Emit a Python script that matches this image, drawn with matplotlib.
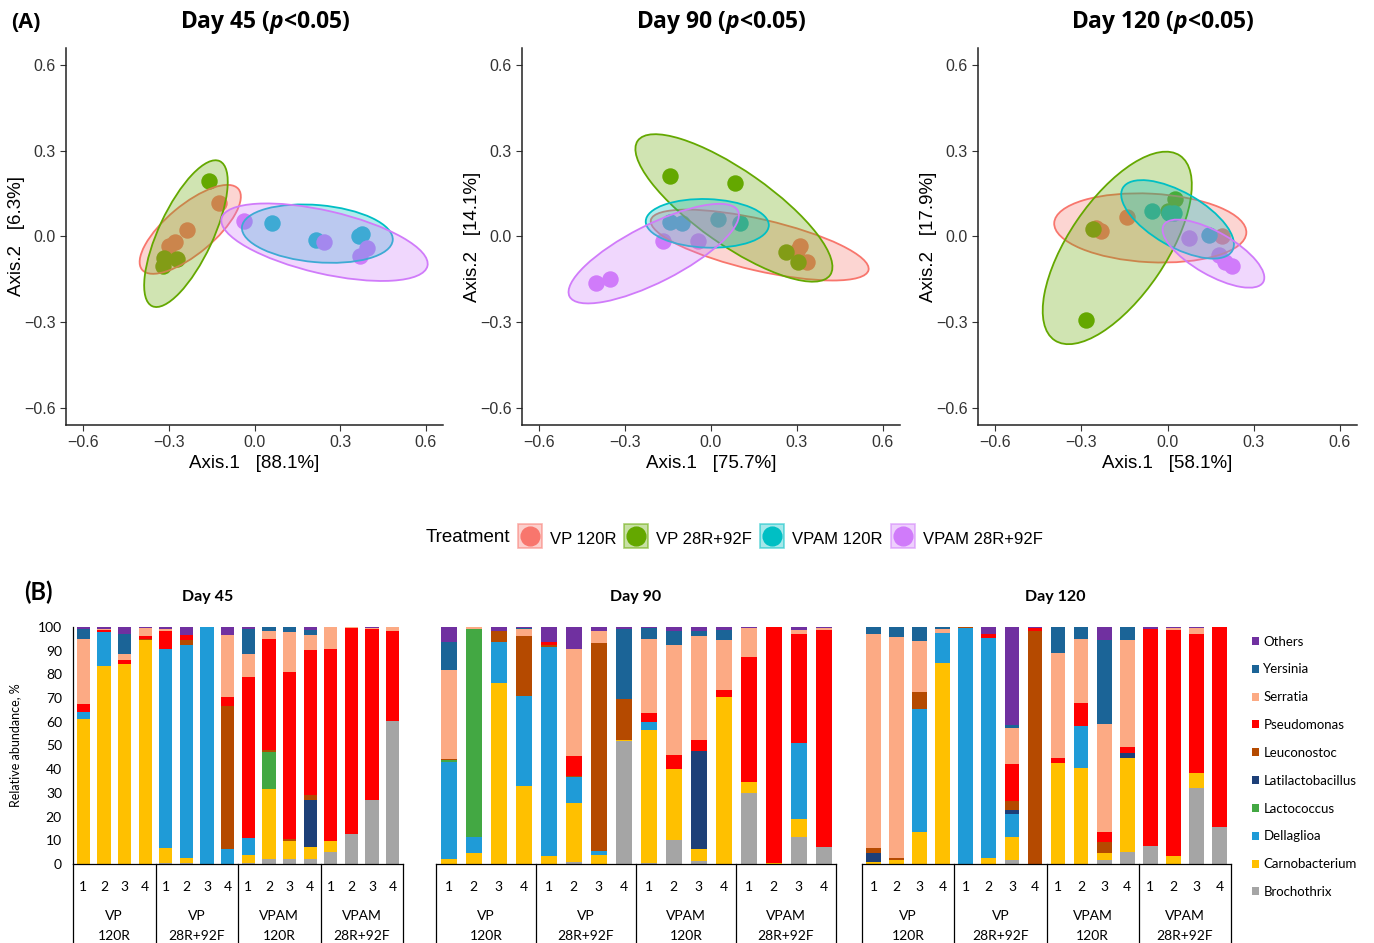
import matplotlib.pyplot as plt
from matplotlib.patches import Ellipse, Patch
from matplotlib.lines import Line2D
from matplotlib.legend_handler import HandlerTuple
from matplotlib.colors import to_rgba
from matplotlib import transforms

plt.rcParams['font.family'] = ['Liberation Sans', 'DejaVu Sans']
plt.rcParams['mathtext.fontset'] = 'custom'
plt.rcParams['mathtext.it'] = 'Open Sans:italic:bold'

# ---------------- (A) PCoA ----------------
treatments = ["VP 120R", "VP 28R+92F", "VPAM 120R", "VPAM 28R+92F"]
treat_colors = ["#F8766D", "#64A800", "#00BFC4", "#D07BFA"]

days = ["Day 45", "Day 90", "Day 120"]
axis1_pct = ["88.1%", "75.7%", "58.1%"]
axis2_pct = ["6.3%", "14.1%", "17.9%"]

# scores per day -> per treatment
d45_x = [[-0.125, -0.236, -0.28, -0.30], [-0.158, -0.317, -0.271, -0.321],
         [0.062, 0.214, 0.377, 0.365], [-0.037, 0.245, 0.394, 0.371]]
d45_y = [[0.117, 0.022, -0.019, -0.033], [0.193, -0.074, -0.079, -0.103],
         [0.047, -0.012, 0.008, 0.003], [0.055, -0.021, -0.039, -0.068]]
d90_x = [[0.31, 0.335, 0.30], [-0.144, 0.084, 0.261, 0.305],
         [-0.144, -0.103, 0.023, 0.103], [-0.402, -0.354, -0.167, -0.046]]
d90_y = [[-0.035, -0.09, -0.05], [0.212, 0.187, -0.053, -0.091],
         [0.051, 0.047, 0.063, 0.047], [-0.163, -0.149, -0.015, -0.015]]
d120_x = [[-0.23, -0.142, 0.19, -0.25], [-0.285, -0.261, 0.025, 0.0],
          [-0.055, 0.004, 0.144, 0.021], [0.074, 0.179, 0.225, 0.2]]
d120_y = [[0.02, 0.07, 0.002, 0.03], [-0.292, 0.028, 0.133, 0.09],
          [0.088, 0.084, 0.005, 0.084], [-0.006, -0.065, -0.103, -0.09]]

# 95% ellipses: centre x, centre y, major, minor, angle
d45_ell = [[-0.225, 0.025, 0.44, 0.17, 40], [-0.24, 0.01, 0.56, 0.19, 65],
           [0.22, 0.01, 0.53, 0.2, -5], [0.245, -0.02, 0.74, 0.22, -13]]
d90_ell = [[0.17, -0.03, 0.78, 0.18, -13], [0.08, 0.1, 0.82, 0.26, -35],
           [-0.013, 0.046, 0.43, 0.17, -2], [-0.2, -0.06, 0.66, 0.2, 27]]
d120_ell = [[-0.06, 0.03, 0.67, 0.24, -3], [-0.175, -0.04, 0.78, 0.34, 56],
            [0.035, 0.06, 0.44, 0.19, -30], [0.16, -0.06, 0.4, 0.15, -30]]

# ---------------- (B) relative abundance ----------------
genera = ["Brochothrix", "Carnobacterium", "Dellaglioa", "Lactococcus", "Latilactobacillus",
          "Leuconostoc", "Pseudomonas", "Serratia", "Yersinia", "Others"]
genus_colors = ["#A5A5A5", "#FFC000", "#1F9BD7", "#43A843", "#1D3F78",
                "#B54A00", "#FF0000", "#FCAA84", "#1B6497", "#7030A0"]
groups = [["VP", "120R"], ["VP", "28R+92F"], ["VPAM", "120R"], ["VPAM", "28R+92F"]]

# one row per bar: B, C, D, La, Lt, Le, P, S, Y, O
ab45 = [[0, 61, 3, 0, 0, 0, 3.5, 27.5, 4, 1],
        [0, 83.5, 14.5, 0, 0, 0, 0.7, 0.5, 0, 0.8],
        [0, 84.3, 0, 0, 0, 0, 1.7, 2.5, 8.7, 2.8],
        [0, 94.4, 0, 0, 0, 0.6, 1.2, 3.3, 0, 0.5],
        [0.5, 6.4, 84, 0, 0, 0, 7.4, 0.7, 0, 1],
        [0.3, 2.1, 89.9, 0, 0, 2.1, 2.2, 0, 0, 3.4],
        [0, 0, 100, 0, 0, 0, 0, 0, 0, 0],
        [0, 0, 6.5, 0, 0, 60, 4, 26, 0, 3.5],
        [0.5, 3.3, 7, 0, 0, 0, 68.2, 9.5, 10.8, 0.7],
        [2, 29.5, 0, 15.8, 0, 0.7, 47, 3.3, 1.7, 0],
        [2, 7.7, 0, 0, 0, 0.8, 70.5, 16.9, 2.1, 0],
        [2, 5.3, 0, 0, 19.9, 1.8, 61.4, 6.4, 1.8, 1.4],
        [4.9, 4.8, 0, 0, 0, 0, 80.9, 9.4, 0, 0],
        [12.6, 0, 0, 0, 0, 0, 87.1, 0.3, 0, 0],
        [27.2, 0, 0, 0, 0, 0, 71.8, 0.5, 0, 0.5],
        [60.3, 0, 0, 0, 0, 0, 37.9, 1.8, 0, 0]]
ab90 = [[0, 2, 41.1, 0.7, 0, 0.7, 0, 37.5, 11.7, 6.3],
        [0, 4.8, 6.7, 87.8, 0, 0, 0, 0.7, 0, 0],
        [0, 76.5, 17.2, 0, 0, 4.6, 0, 0, 0, 1.7],
        [0, 33, 38, 0, 0, 25.2, 0, 2.8, 0.5, 0.5],
        [0, 3.4, 88.2, 0, 0, 0.7, 1.4, 0, 0, 6.3],
        [1, 24.8, 11, 0, 0, 0.4, 8.3, 45.4, 0, 9.1],
        [0, 3.7, 1.9, 0, 0, 87.8, 0, 4.9, 0, 1.7],
        [51.8, 0.5, 0, 0, 0, 17.2, 0, 0, 29.5, 1],
        [0.3, 56.4, 3.3, 0, 0, 0, 3.9, 30.9, 4.9, 0.3],
        [10.1, 29.8, 0, 0, 0, 0, 6, 46.4, 5.9, 1.8],
        [1.4, 4.9, 0, 0, 41.5, 0, 4.4, 43.9, 2.2, 1.7],
        [0, 70.5, 0, 0, 0, 0, 2.8, 21.4, 3.9, 1.4],
        [29.8, 4.9, 0, 0, 0, 0, 52.7, 12.2, 0, 0.4],
        [0, 0.5, 0, 0, 0, 0, 99.5, 0, 0, 0],
        [11.5, 7.3, 32.3, 0, 0, 0, 45.8, 1.7, 0, 1.4],
        [7, 0, 0, 0, 0, 0, 91.9, 0.6, 0, 0.5]]
ab120 = [[0, 1, 0, 0, 3.5, 2.1, 0, 90.3, 3.1, 0],
         [0, 1.7, 0, 0, 0, 0.7, 0, 93.4, 4.2, 0],
         [0, 13.6, 52, 0, 0, 7, 0, 21.4, 6, 0],
         [0, 85, 12.6, 0, 0, 0, 0, 1.7, 0.7, 0],
         [0, 0, 99.5, 0, 0, 0.5, 0, 0, 0, 0],
         [0, 2.4, 93.1, 0, 0, 0, 1.4, 0, 0, 3.1],
         [1.7, 9.8, 9.6, 0, 1.7, 3.7, 15.5, 15.2, 1.6, 41.2],
         [0, 0, 0, 0, 0, 98.3, 1.3, 0, 0, 0.4],
         [0, 42.7, 0, 0, 0, 0, 2.1, 44.2, 11, 0],
         [0, 40.7, 17.6, 0, 0, 0, 9.8, 27, 4.9, 0],
         [1.7, 2.8, 0, 0, 0, 4.9, 4.2, 45.4, 35.4, 5.6],
         [4.9, 39.9, 0, 0, 2.2, 0, 2.2, 45.2, 5.6, 0],
         [7.7, 0, 0, 0, 0, 0, 91.6, 0, 0, 0.7],
         [0, 3.4, 0, 0, 0, 0, 95.5, 0.5, 0, 0.6],
         [32.2, 6.3, 0, 0, 0, 0, 58.7, 2.4, 0, 0.4],
         [15.7, 0, 0, 0, 0, 0, 84.3, 0, 0, 0]]

W, H = 1374, 943
fig = plt.figure(figsize=(W / 100, H / 100), dpi=100)


def box(x0, y0, x1, y1):
    # pixel box (top-left origin) -> figure fraction
    return [x0 / W, 1 - y1 / H, (x1 - x0) / W, (y1 - y0) / H]


pc_boxes = [(66, 48, 443, 425), (522, 48, 900, 425), (978, 48, 1357, 425)]
title_x = [265, 721, 1163]
all_x = [d45_x, d90_x, d120_x]
all_y = [d45_y, d90_y, d120_y]
all_ell = [d45_ell, d90_ell, d120_ell]
ticks = [-0.6, -0.3, 0.0, 0.3, 0.6]
tick_lbl = ["\u22120.6", "\u22120.3", "0.0", "0.3", "0.6"]

for i in range(3):
    ax = fig.add_axes(box(*pc_boxes[i]))
    for t in range(4):
        ax.scatter(all_x[i][t], all_y[i][t], s=140, color=treat_colors[t], lw=0, zorder=2)
    for t in range(4):
        cx, cy, w, h, a = all_ell[i][t]
        ax.add_patch(Ellipse((cx, cy), w, h, angle=a, facecolor=to_rgba(treat_colors[t], 0.3),
                             edgecolor=treat_colors[t], lw=1.3, zorder=3))
    ax.set_xlim(-0.66, 0.66)
    ax.set_ylim(-0.66, 0.66)
    ax.set_xticks(ticks, tick_lbl)
    ax.set_yticks(ticks, tick_lbl)
    ax.tick_params(labelsize=11.5, length=4, width=0.8, colors="#333333", labelcolor="#333333")
    for s in ["top", "right"]:
        ax.spines[s].set_visible(False)
    for s in ["left", "bottom"]:
        ax.spines[s].set_linewidth(1.1)
        ax.spines[s].set_color("#222222")
    ax.set_xlabel("Axis.1   [" + axis1_pct[i] + "]", fontsize=13.5, labelpad=3)
    ax.set_ylabel("Axis.2   [" + axis2_pct[i] + "]", fontsize=13.5, labelpad=-1)
    fig.text(title_x[i] / W, 1 - 23 / H, days[i] + " ($p$<0.05)", fontsize=16.5, fontweight="bold",
             family=["Open Sans", "DejaVu Sans"], ha="center", va="center")

fig.text(26 / W, 1 - 22 / H, "(A)", fontsize=15.5, fontweight="bold",
         family=["Open Sans", "DejaVu Sans"], ha="center", va="center")

# treatment legend
fig.text(426 / W, 1 - 538 / H, "Treatment", fontsize=13.5, ha="left", va="center")
tr_handles = [(Line2D([], [], marker="s", ms=17, lw=0, markerfacecolor=to_rgba(c, 0.35),
                      markeredgecolor=to_rgba(c, 0.55), markeredgewidth=1.2),
               Line2D([], [], marker="o", ms=13.5, color=c, lw=0)) for c in treat_colors]
fig.legend(tr_handles, treatments, loc="center left", bbox_to_anchor=(519 / W, 1 - 538 / H),
           ncol=4, frameon=False, fontsize=12, handlelength=1.3, handleheight=1.3,
           handletextpad=0.55, columnspacing=0.55, borderpad=0, borderaxespad=0,
           handler_map={tuple: HandlerTuple(ndivide=1)})

# ---------------- bars ----------------
bar_boxes = [(73, 627, 403, 864), (436, 627, 836, 864), (862, 627, 1231, 864)]
bar_title_x = [208, 636, 1055]
all_ab = [ab45, ab90, ab120]
bfont = ["Lato", "DejaVu Sans"]

for i in range(3):
    ax = fig.add_axes(box(*bar_boxes[i]))
    rows = all_ab[i]
    xs = list(range(len(rows)))
    bottoms = [0.0] * len(rows)
    for g in range(len(genera)):
        vals = [r[g] for r in rows]
        ax.bar(xs, vals, bottom=bottoms, width=0.64, color=genus_colors[g], lw=0)
        bottoms = [b + v for b, v in zip(bottoms, vals)]
    ax.set_xlim(-0.5, 15.5)
    ax.set_ylim(0, 100)
    ax.set_xticks(xs, ["1", "2", "3", "4"] * 4)
    ax.tick_params(axis="x", length=0, pad=12, labelsize=10)
    for lb in ax.get_xticklabels():
        lb.set_family(bfont)
    for s in ["top", "right"]:
        ax.spines[s].set_visible(False)
    ax.spines["bottom"].set_linewidth(0.9)
    if i == 0:
        ax.set_yticks(range(0, 101, 10))
        ax.tick_params(axis="y", length=0, pad=8, labelsize=10)
        for lb in ax.get_yticklabels():
            lb.set_family(bfont)
        ax.spines["left"].set_linewidth(0.9)
        ax.set_ylabel("Relative abundance, %", fontsize=9, family=bfont, labelpad=12)
    else:
        ax.set_yticks([])
        ax.spines["left"].set_visible(False)
    trans = transforms.blended_transform_factory(ax.transData, ax.transAxes)
    for xv in [-0.5, 3.5, 7.5, 11.5, 15.5]:
        ax.plot([xv, xv], [0, -0.4], transform=trans, color="black", lw=0.9, clip_on=False)
    for k, (g1, g2) in enumerate(groups):
        cx = 4 * k + 1.5
        ax.text(cx, -0.22, g1, transform=trans, ha="center", va="center", fontsize=10, family=bfont)
        ax.text(cx, -0.305, g2, transform=trans, ha="center", va="center", fontsize=10, family=bfont)
    fig.text(bar_title_x[i] / W, 1 - 597 / H, days[i], fontsize=11.5, fontweight="bold",
             family=bfont, ha="center", va="center")

fig.text(38 / W, 1 - 592 / H, "(B)", fontsize=17, fontweight="bold", family=bfont,
         ha="center", va="center")

g_handles = [Patch(facecolor=c) for c in genus_colors[::-1]]
fig.legend(g_handles, genera[::-1], loc="upper left", bbox_to_anchor=(1245 / W, 1 - 629 / H),
           frameon=False, prop={"family": bfont, "size": 9.5}, handlelength=0.55,
           handleheight=0.55, handletextpad=0.35, labelspacing=1.2, borderpad=0)

fig.savefig("out.png", dpi=100)
